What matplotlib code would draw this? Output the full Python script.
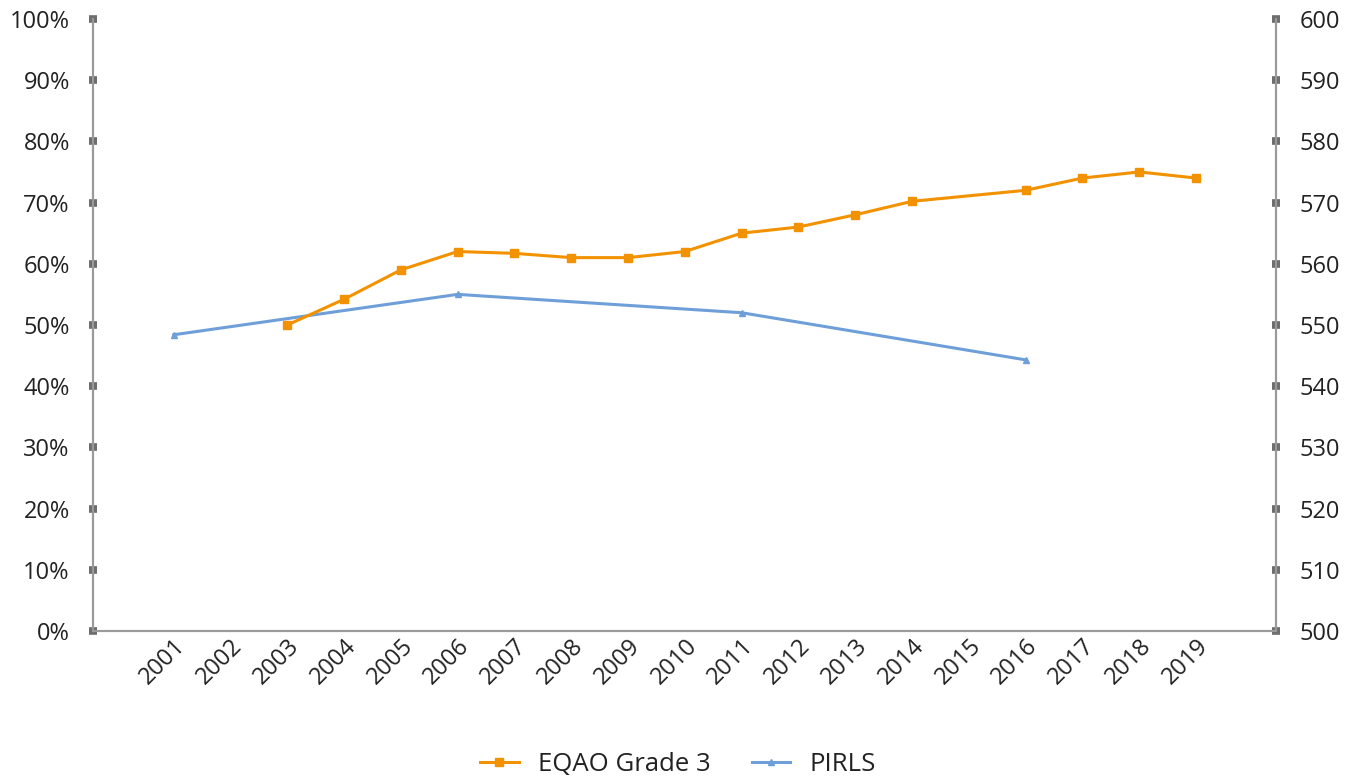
import numpy as np
import matplotlib.pyplot as plt
import matplotlib.transforms as mtransforms
from matplotlib.ticker import FuncFormatter

plt.rcParams['font.family'] = ['Open Sans', 'DejaVu Sans']

years = list(range(2001, 2020))
eqao_years = [2003, 2004, 2005, 2006, 2007, 2008, 2009, 2010, 2011, 2012, 2013, 2014, 2016, 2017, 2018, 2019]
eqao_pct = [50, 54.2, 59, 62, 61.7, 61, 61, 62, 65, 66, 68, 70.2, 72, 74, 75, 74]
pirls_years = [2001, 2006, 2011, 2016]
pirls_score = [548.4, 555, 552, 544.3]

orange = '#F39200'
blue = '#6F9FD8'
axis_grey = '#9A9A9A'
tick_grey = '#6E6E6E'
txt = '#222222'
fs = 17

fig = plt.figure(figsize=(13.56, 7.81), dpi=100)
ax = fig.add_axes([0.0686, 0.192, 0.8725, 0.7838])
ax2 = ax.twinx()

ax.plot(eqao_years, eqao_pct, color=orange, lw=2.2, marker='s', ms=6, label='EQAO Grade 3')
ax2.plot(pirls_years, pirls_score, color=blue, lw=2.2, marker='^', ms=5, label='PIRLS')

ax.set_xlim(1999.58, 2020.41)
ax.set_ylim(0, 100)
ax2.set_ylim(500, 600)
ax.set_yticks(np.arange(0, 101, 10))
ax2.set_yticks(np.arange(500, 601, 10))
ax.yaxis.set_major_formatter(FuncFormatter(lambda v, p: f'{v:.0f}%'))

ax.set_xticks(years)
ax.set_xticklabels([str(y) for y in years], rotation=45, ha='right', rotation_mode='anchor')
shift = mtransforms.ScaledTranslation(16 / 100, 0, fig.dpi_scale_trans)
for lbl in ax.get_xticklabels():
    lbl.set_transform(lbl.get_transform() + shift)

for a in (ax, ax2):
    a.spines['top'].set_visible(False)
    for s in ('left', 'right', 'bottom'):
        a.spines[s].set_color(axis_grey)
        a.spines[s].set_linewidth(1.5)
    a.tick_params(axis='y', direction='inout', length=5.5, width=5.5, color=tick_grey,
                  labelsize=fs, labelcolor=txt, pad=14)
ax.tick_params(axis='x', length=0, labelsize=fs, labelcolor=txt, pad=2)
ax.set_zorder(ax2.get_zorder() + 1)
ax.patch.set_visible(False)

h1, l1 = ax.get_legend_handles_labels()
h2, l2 = ax2.get_legend_handles_labels()
fig.legend(h1 + h2, l1 + l2, loc='lower center', bbox_to_anchor=(0.5, -0.024), ncol=2,
           frameon=False, fontsize=18.5, handlelength=1.5, handletextpad=0.75, columnspacing=1.6,
           labelcolor=txt)

fig.savefig('out.png', dpi=100)
